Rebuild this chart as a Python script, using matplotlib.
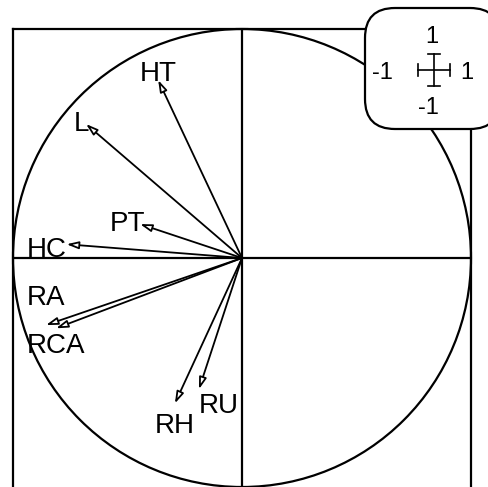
import numpy as np
import matplotlib.pyplot as plt
from matplotlib.patches import Circle, FancyArrowPatch, FancyBboxPatch

plt.rcParams['font.family'] = ['Liberation Sans', 'DejaVu Sans']

# correlation circle: variable coordinates (arrow tips)
names = ["HT", "L", "PT", "HC", "RA", "RCA", "RU", "RH"]
xs = [-0.366, -0.681, -0.445, -0.766, -0.856, -0.812, -0.188, -0.293]
ys = [0.777, 0.585, 0.148, 0.060, -0.293, -0.307, -0.573, -0.635]
# where the labels sit
lab_x = [-0.367, -0.703, -0.502, -0.852, -0.856, -0.812, -0.100, -0.293]
lab_y = [0.803, 0.585, 0.148, 0.035, -0.175, -0.384, -0.646, -0.734]

W, H = 488, 487
fig = plt.figure(figsize=(W / 100, H / 100), dpi=100)
ax = fig.add_axes([13 / W, 0, 458 / W, 458 / H])
ax.set_xlim(-1, 1)
ax.set_ylim(-1, 1)
ax.set_xticks([])
ax.set_yticks([])
for s in ["top", "left", "right"]:
    ax.spines[s].set_linewidth(1.6)
ax.spines["bottom"].set_visible(False)

ax.add_patch(Circle((0, 0), 1, fill=False, lw=1.6, ec="black", clip_on=False))
ax.axhline(0, color="black", lw=1.6)
ax.axvline(0, color="black", lw=1.6)

for n, x, y, lx, ly in zip(names, xs, ys, lab_x, lab_y):
    ax.add_patch(FancyArrowPatch((0, 0), (x, y), arrowstyle="-|>,head_length=7,head_width=2.2",
                                 mutation_scale=1, lw=1.3, ec="black", fc="white",
                                 shrinkA=0, shrinkB=0))
    ax.text(lx, ly, n, ha="center", va="center", fontsize=20)

# scale legend in the top right corner, in pixel coordinates
lg = fig.add_axes([0, 0, 1, 1], zorder=5)
lg.set_xlim(0, W)
lg.set_ylim(H, 0)
lg.axis("off")
lg.patch.set_alpha(0)
lg.add_patch(FancyBboxPatch((365, 8), 135, 121, boxstyle="round,pad=0,rounding_size=30",
                            fc="white", ec="black", lw=1.6, clip_on=False))
cx, cy, r = 434, 70, 16
lg.plot([cx - r, cx + r], [cy, cy], color="black", lw=1.2)
lg.plot([cx, cx], [cy - r, cy + r], color="black", lw=1.2)
lg.plot([cx - r, cx - r], [cy - 6, cy + 6], color="black", lw=1.2)
lg.plot([cx + r, cx + r], [cy - 6, cy + 6], color="black", lw=1.2)
lg.plot([cx - 6, cx + 6], [cy - r, cy - r], color="black", lw=1.2)
lg.plot([cx - 6, cx + 6], [cy + r, cy + r], color="black", lw=1.2)
lg.text(432, 37, "1", ha="center", va="center", fontsize=17)
lg.text(382, 73, "-1", ha="center", va="center", fontsize=17)
lg.text(467, 73, "1", ha="center", va="center", fontsize=17)
lg.text(428, 108, "-1", ha="center", va="center", fontsize=17)

fig.savefig("out.png", dpi=100)
